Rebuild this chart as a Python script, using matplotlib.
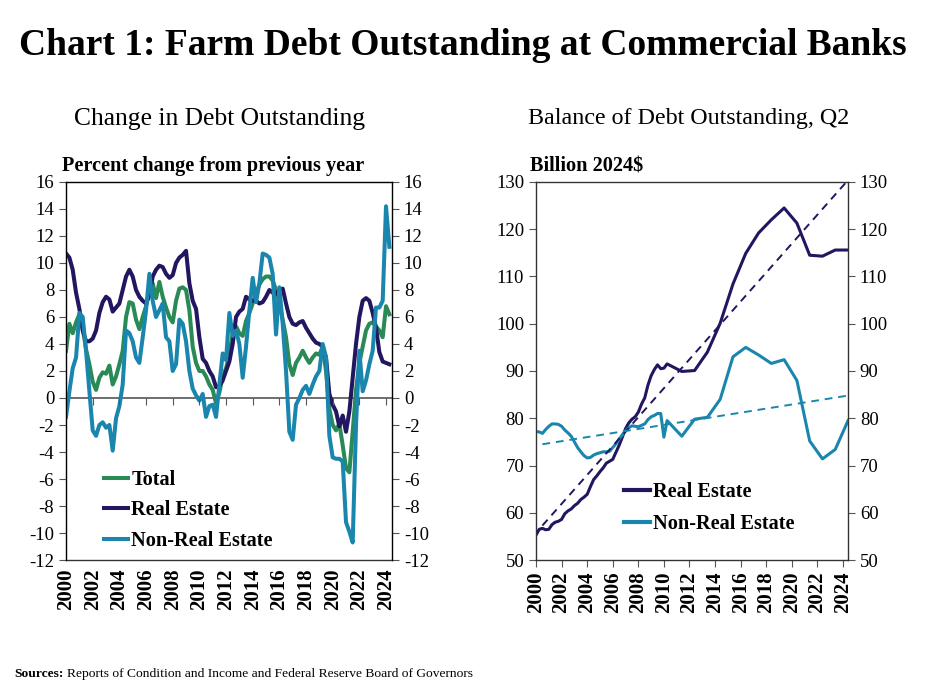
import numpy as np
import matplotlib.pyplot as plt
from matplotlib.lines import Line2D

plt.rcParams['font.family'] = ['Liberation Serif', 'DejaVu Serif']
plt.rcParams['axes.unicode_minus'] = False

navy = '#221660'
green = '#2a8a55'
blue = '#1a86ae'

# left panel: percent change from previous year, quarterly
chg_years = 2000 + 0.25 * np.arange(98)
chg_total = [3.5, 5.5, 4.8, 5.6, 6.2, 5.2, 3.6, 2.5, 1.2, 0.6, 1.5, 1.9,
             1.8, 2.4, 1.0, 1.6, 2.5, 3.5, 6.0, 7.1, 7.0, 5.8, 5.1, 6.0,
             6.8, 8.0, 8.5, 7.4, 8.6, 7.5, 6.7, 6.0, 5.6, 7.2, 8.1, 8.2,
             8.0, 6.5, 3.8, 2.6, 2.0, 2.0, 1.6, 1.0, 0.6, -0.4, 0.4, 1.6,
             2.2, 3.2, 4.8, 5.3, 4.8, 4.6, 5.7, 6.3, 7.0, 7.7, 8.4, 8.8,
             9.0, 9.0, 8.7, 8.0, 7.0, 5.8, 4.5, 2.5, 1.7, 2.6, 3.0, 3.5,
             3.0, 2.6, 3.0, 3.3, 3.2, 3.8, 2.0, -0.8, -2.0, -2.4, -1.9, -3.5,
             -5.2, -5.5, -2.5, 0.6, 2.6, 3.8, 5.0, 5.5, 5.6, 5.3, 5.0, 4.5,
             6.8, 6.2]
chg_re = [10.7, 10.4, 9.5, 7.8, 6.6, 5.0, 4.2, 4.2, 4.4, 5.0, 6.3, 7.1,
          7.5, 7.3, 6.4, 6.7, 7.0, 8.0, 9.0, 9.5, 9.0, 8.0, 7.5, 7.2,
          7.0, 7.6, 9.0, 9.5, 9.8, 9.7, 9.2, 8.9, 9.1, 10.0, 10.4, 10.6,
          10.9, 8.5, 7.2, 6.6, 4.5, 2.9, 2.6, 2.0, 1.6, 0.8, 0.9, 1.3,
          2.0, 2.7, 4.0, 6.0, 6.4, 6.6, 7.5, 7.3, 7.2, 7.2, 7.0, 7.1,
          7.5, 8.0, 7.8, 7.7, 8.0, 8.1, 7.0, 6.0, 5.5, 5.4, 5.6, 5.7,
          5.2, 4.8, 4.4, 4.1, 4.0, 3.8, 3.0, 0.3, -0.5, -1.0, -2.1, -1.3,
          -2.5, -1.0, 1.5, 4.0, 6.0, 7.2, 7.4, 7.2, 6.3, 5.2, 3.4, 2.7,
          2.6, 2.5]
chg_nre = [-1.4, 0.5, 2.2, 3.0, 6.3, 6.0, 3.5, 0.5, -2.4, -2.8, -2.0, -1.8,
           -2.2, -2.0, -3.9, -1.5, -0.6, 1.0, 5.0, 4.8, 4.2, 3.0, 2.6, 4.5,
           6.5, 9.2, 7.2, 6.0, 6.5, 7.0, 4.5, 4.2, 2.0, 2.5, 5.8, 5.5,
           4.2, 2.0, 0.7, 0.2, -0.2, 0.3, -1.4, -0.6, -0.5, -1.4, 1.0, 3.3,
           2.8, 6.3, 4.6, 5.0, 4.0, 1.5, 3.8, 6.5, 8.9, 7.1, 8.5, 10.7,
           10.6, 10.4, 9.2, 4.7, 8.2, 5.5, 2.0, -2.5, -3.1, -0.5, 0.0, 0.6,
           0.9, 0.3, 1.0, 1.6, 2.0, 4.0, 3.0, -2.8, -4.4, -4.5, -4.5, -4.7,
           -9.2, -9.9, -10.7, -2.0, 3.5, 0.5, 1.3, 2.5, 3.5, 6.7, 6.7, 7.2,
           14.2, 11.2]

# right panel: balance, billion 2024$
bal_years = [2000.0, 2000.25, 2000.5, 2000.75, 2001.0, 2001.25, 2001.5, 2001.75,
             2002.0, 2002.25, 2002.5, 2002.75, 2003.0, 2003.25, 2003.5, 2003.75,
             2004.0, 2004.25, 2004.5, 2004.75, 2005.0, 2005.25, 2005.5, 2005.75,
             2006.0, 2006.25, 2006.5, 2006.75, 2007.0, 2007.25, 2007.5, 2007.75,
             2008.0, 2008.25, 2008.5, 2008.75, 2009.0, 2009.25, 2009.5, 2009.75,
             2010.0, 2010.25, 2011.4, 2012.4, 2013.4, 2014.4, 2015.4, 2016.4,
             2017.4, 2018.4, 2019.4, 2020.4, 2021.4, 2022.4, 2023.4, 2024.4]
bal_re = [55.3, 56.5, 56.7, 56.4, 56.5, 57.5, 58.0, 58.2,
          58.6, 59.8, 60.4, 60.8, 61.5, 62.0, 62.8, 63.3,
          63.9, 65.5, 67.0, 67.8, 68.7, 69.5, 70.5, 70.9,
          71.3, 72.8, 74.3, 76.0, 77.8, 79.0, 79.8, 80.3,
          81.3, 83.0, 84.3, 87.0, 89.0, 90.3, 91.3, 90.5,
          90.6, 91.5, 89.9, 90.1, 94.0, 100.1, 108.4, 114.9,
          119.2, 122.0, 124.5, 121.3, 114.5, 114.3, 115.6, 115.6]
bal_nre = [77.2, 77.1, 76.8, 77.6, 78.3, 78.8, 78.8, 78.7,
           78.3, 77.5, 76.9, 76.2, 75.0, 73.8, 72.9, 72.1,
           71.6, 71.7, 72.2, 72.5, 72.7, 72.9, 72.9, 73.0,
           73.8, 74.6, 75.6, 76.5, 77.3, 78.0, 78.4, 78.3,
           78.2, 78.5, 78.8, 79.7, 80.3, 80.6, 81.0, 81.0,
           76.0, 79.5, 76.2, 79.8, 80.2, 84.0, 93.0, 95.0,
           93.4, 91.6, 92.4, 88.0, 75.2, 71.4, 73.4, 79.5]
trend_years = [2000.5, 2024.4]
trend_re = [57.3, 130.4]
trend_nre = [74.5, 84.8]

year_ticks = list(range(2000, 2025, 2))

fig = plt.figure(figsize=(9.25, 6.93), dpi=100)
fig.text(0.5, 0.935, 'Chart 1: Farm Debt Outstanding at Commercial Banks',
         ha='center', va='center', fontsize=27, fontweight='bold')

ax1 = fig.add_axes([0.0714, 0.1919, 0.3524, 0.5455])
ax2 = fig.add_axes([0.5795, 0.1919, 0.3373, 0.5455])

fig.text(0.2378, 0.829, 'Change in Debt Outstanding', ha='center',
         va='center', fontsize=18.4)
fig.text(0.745, 0.829, 'Balance of Debt Outstanding, Q2', ha='center',
         va='center', fontsize=17.3)
fig.text(0.0665, 0.760, 'Percent change from previous year', ha='left',
         va='center', fontsize=14.6, fontweight='bold')
fig.text(0.573, 0.760, 'Billion 2024$', ha='left', va='center',
         fontsize=14.6, fontweight='bold')

# left panel
ax1.plot(chg_years, chg_total, color=green, lw=2.9, label='Total')
ax1.plot(chg_years, chg_re, color=navy, lw=2.9, label='Real Estate')
ax1.plot(chg_years, chg_nre, color=blue, lw=2.9, label='Non-Real Estate')
ax1.axhline(0, color='#555555', lw=1.2, zorder=0)
ax1.set_ylim(-12, 16)
ax1.set_yticks(range(-12, 17, 2))
ax1.set_xlim(2000, 2024.45)
ax1.set_xticks(year_ticks)
ax1.tick_params(axis='x', length=0, pad=6)
ax1.tick_params(axis='y', direction='out', length=5, labelsize=13.5,
                right=True, labelright=True, color='#555555')
for lab in ax1.get_xticklabels():
    lab.set_rotation(90)
    lab.set_fontweight('bold')
    lab.set_fontsize(15)

# tick marks sitting on the zero line
axz = ax1.twiny()
axz.set_xlim(ax1.get_xlim())
axz.set_xticks(year_ticks)
axz.xaxis.set_ticks_position('bottom')
axz.spines['bottom'].set_position(('data', 0))
axz.spines['bottom'].set_visible(False)
axz.tick_params(axis='x', direction='out', length=5, labelbottom=False,
                labeltop=False, color='#555555')

ax1.legend(loc='lower left', bbox_to_anchor=(0.06, -0.024), frameon=False,
           handlelength=1.2, handletextpad=0.15, labelspacing=0.52,
           prop={'weight': 'bold', 'size': 14.6})

# right panel
ax2.plot(bal_years, bal_re, color=navy, lw=2.2, label='Real Estate')
ax2.plot(bal_years, bal_nre, color=blue, lw=2.2, label='Non-Real Estate')
ax2.plot(trend_years, trend_re, color=navy, lw=1.4, ls=(0, (4, 3)))
ax2.plot(trend_years, trend_nre, color=blue, lw=1.4, ls=(0, (4, 3)))
ax2.set_ylim(50, 130)
ax2.set_yticks(range(50, 131, 10))
ax2.set_xlim(2000, 2024.4)
ax2.set_xticks(year_ticks)
ax2.tick_params(axis='x', direction='out', length=5, color='#555555', pad=3)
ax2.tick_params(axis='y', direction='out', length=5, labelsize=13.5,
                right=True, labelright=True, color='#555555')
for lab in ax2.get_xticklabels():
    lab.set_rotation(90)
    lab.set_fontweight('bold')
    lab.set_fontsize(15)

handles = [Line2D([], [], color=navy, lw=3), Line2D([], [], color=blue, lw=3)]
ax2.legend(handles, ['Real Estate', 'Non-Real Estate'], loc='lower left',
           bbox_to_anchor=(0.225, 0.02), frameon=False, handlelength=1.25,
           handletextpad=0.15, labelspacing=0.6,
           prop={'weight': 'bold', 'size': 14.6})

for ax in (ax1, ax2):
    for sp in ax.spines.values():
        sp.set_color('#333333')
        sp.set_linewidth(1.0)

fig.text(0.015, 0.028, 'Sources:', fontsize=9.7, fontweight='bold',
         va='center')
fig.text(0.072, 0.028, 'Reports of Condition and Income and Federal Reserve Board of Governors',
         fontsize=9.7, va='center')

fig.savefig('out.png', dpi=100)
